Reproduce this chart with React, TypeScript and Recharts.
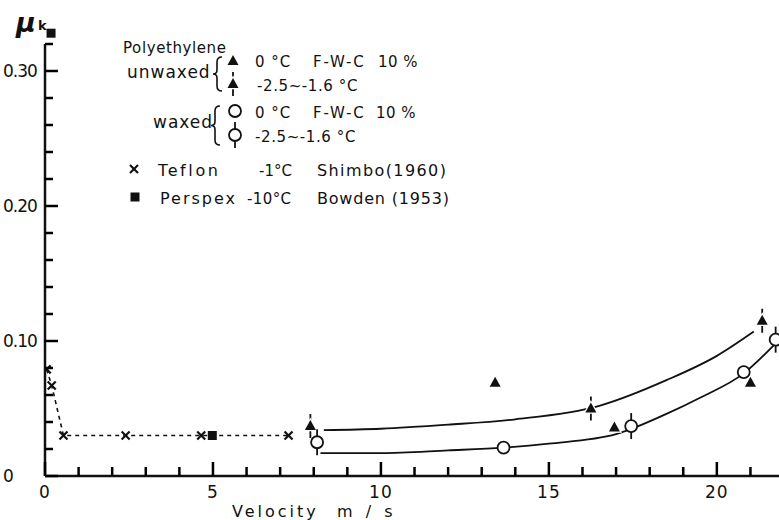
import React from "react";
import { ComposedChart, Line, Scatter, XAxis, YAxis, ReferenceLine } from "recharts";

// Teflon, Shimbo (1960), -1°C
const teflon = [
  { v: 0.05, mu: 0.079 },
  { v: 0.2, mu: 0.067 },
  { v: 0.55, mu: 0.03 },
  { v: 2.4, mu: 0.03 },
  { v: 4.65, mu: 0.03 },
  { v: 7.25, mu: 0.03 },
];
// Perspex, Bowden (1953), -10°C
const perspex = [
  { v: 0.18, mu: 0.328 },
  { v: 4.98, mu: 0.03 },
];
// polyethylene unwaxed
const unwaxed0 = [
  { v: 13.4, mu: 0.069 },
  { v: 16.95, mu: 0.036 },
  { v: 21.0, mu: 0.069 },
];
const unwaxedCold = [
  { v: 7.9, mu: 0.037 },
  { v: 16.25, mu: 0.05 },
  { v: 21.35, mu: 0.115 },
];
// polyethylene waxed
const waxed0 = [
  { v: 13.65, mu: 0.021 },
  { v: 20.8, mu: 0.077 },
];
const waxedCold = [
  { v: 8.1, mu: 0.025 },
  { v: 17.45, mu: 0.037 },
  { v: 21.75, mu: 0.101 },
];
// hand drawn curves
const unwaxedCurve = [
  { v: 8.3, mu: 0.034 },
  { v: 10, mu: 0.035 },
  { v: 12, mu: 0.038 },
  { v: 14, mu: 0.042 },
  { v: 16.5, mu: 0.052 },
  { v: 18.5, mu: 0.071 },
  { v: 20, mu: 0.089 },
  { v: 21.1, mu: 0.107 },
];
const waxedCurve = [
  { v: 8.2, mu: 0.017 },
  { v: 10, mu: 0.017 },
  { v: 12, mu: 0.019 },
  { v: 13.65, mu: 0.021 },
  { v: 15, mu: 0.024 },
  { v: 17, mu: 0.031 },
  { v: 18.5, mu: 0.046 },
  { v: 19.5, mu: 0.058 },
  { v: 20.8, mu: 0.076 },
  { v: 21.7, mu: 0.097 },
];

const xTicks = [0, 1, 2, 3, 4, 5, 6, 7, 8, 9, 10, 11, 12, 13, 14, 15, 16, 17, 18, 19, 20, 21];
const yTicks = [0, 0.02, 0.04, 0.06, 0.08, 0.1, 0.12, 0.14, 0.16, 0.18, 0.2, 0.22, 0.24, 0.26, 0.28, 0.3, 0.32];
const yLabels = ["0", "0.10", "0.20", "0.30"];

const INK = "#111111";
const FONT = "'DejaVu Sans', sans-serif";

const Tri = ({ cx, cy }: any) => (
  <polygon
    points={`${cx},${cy - 6} ${cx - 5.5},${cy + 4} ${cx + 5.5},${cy + 4}`}
    fill={INK}
    stroke="#fff"
    strokeWidth={2.5}
    paintOrder="stroke"
  />
);
const TriBar = ({ cx, cy }: any) => (
  <g>
    <line x1={cx} y1={cy - 12} x2={cx} y2={cy + 12} stroke={INK} strokeWidth={1.8} />
    <Tri cx={cx} cy={cy} />
  </g>
);
const Circ = ({ cx, cy }: any) => (
  <circle cx={cx} cy={cy} r={6} fill="#fff" stroke={INK} strokeWidth={1.8} />
);
const CircBar = ({ cx, cy }: any) => (
  <g>
    <line x1={cx} y1={cy - 13} x2={cx} y2={cy + 13} stroke={INK} strokeWidth={1.8} />
    <Circ cx={cx} cy={cy} />
  </g>
);
const Cross = ({ cx, cy }: any) => (
  <g stroke={INK} strokeWidth={2.2}>
    <line x1={cx - 4} y1={cy - 4} x2={cx + 4} y2={cy + 4} />
    <line x1={cx - 4} y1={cy + 4} x2={cx + 4} y2={cy - 4} />
  </g>
);
const Square = ({ cx, cy }: any) => <rect x={cx - 4.5} y={cy - 4.5} width={9} height={9} fill={INK} />;

// ticks point inward, longer on the labelled ones
const XTick = (props: any) => {
  const x = Number(props.x);
  const y = Number(props.y);
  const major = props.index % 5 === 0;
  return (
    <g>
      <path d={`M${x},${y}V${y - (major ? 14 : 9)}`} stroke="#000" strokeWidth={2.5} fill="none" />
      {major && (
        <text x={x} y={y + 22} textAnchor="middle" fontSize={17} fontFamily={FONT} fill={INK} letterSpacing={1}>
          {xTicks[props.index]}
        </text>
      )}
    </g>
  );
};

const YTick = (props: any) => {
  const x = Number(props.x);
  const y = Number(props.y);
  const major = props.index % 5 === 0;
  return (
    <g>
      <path d={`M${x},${y}H${x + (major ? 13 : 8)}`} stroke="#000" strokeWidth={2.5} fill="none" />
      {major && (
        <text x={3} y={y + 6} fontSize={17} fontFamily={FONT} fill={INK} letterSpacing={-1}>
          {yLabels[props.index / 5]}
        </text>
      )}
    </g>
  );
};

const Brace = ({ x, y0, y1 }: { x: number; y0: number; y1: number }) => {
  const m = (y0 + y1) / 2;
  return (
    <path
      d={`M${x + 9},${y0} Q${x + 4},${y0} ${x + 4},${y0 + 5} L${x + 4},${m - 4} Q${x + 4},${m} ${x},${m} Q${x + 4},${m} ${x + 4},${m + 4} L${x + 4},${y1 - 5} Q${x + 4},${y1} ${x + 9},${y1}`}
      fill="none"
      stroke={INK}
      strokeWidth={1.6}
    />
  );
};

function Overlay() {
  const t = { fontFamily: FONT, fill: INK } as const;
  return (
    <svg width={779} height={520} style={{ position: "absolute", left: 0, top: 0, pointerEvents: "none" }}>
      <text x={16} y={32} fontSize={27} fontStyle="italic" fontWeight="bold" {...t}>μ</text>
      <text x={38} y={30} fontSize={13} fontWeight="bold" {...t}>k</text>

      <text x={123} y={53} fontSize={15} letterSpacing={0.6} {...t}>Polyethylene</text>
      <text x={127} y={78} fontSize={17} letterSpacing={1} {...t}>unwaxed</text>
      <Brace x={213} y0={57} y1={91} />
      <Tri cx={233} cy={61} />
      <TriBar cx={233} cy={84} />
      <text x={255} y={67} fontSize={15} letterSpacing={1} {...t}>0 °C</text>
      <text x={313} y={67} fontSize={15} letterSpacing={1.8} {...t}>F-W-C</text>
      <text x={378} y={67} fontSize={15} letterSpacing={0.5} {...t}>10 %</text>
      <text x={257} y={91} fontSize={15} letterSpacing={0.6} {...t}>-2.5~-1.6 °C</text>

      <text x={153} y={128} fontSize={17} letterSpacing={1} {...t}>waxed</text>
      <Brace x={211} y0={106} y1={145} />
      <Circ cx={235} cy={111} />
      <CircBar cx={235} cy={135} />
      <text x={255} y={118} fontSize={15} letterSpacing={1} {...t}>0 °C</text>
      <text x={313} y={118} fontSize={15} letterSpacing={1.8} {...t}>F-W-C</text>
      <text x={376} y={118} fontSize={15} letterSpacing={0.5} {...t}>10 %</text>
      <text x={255} y={142} fontSize={15} letterSpacing={0.6} {...t}>-2.5~-1.6 °C</text>

      <Cross cx={134} cy={169} />
      <text x={158} y={176} fontSize={16} letterSpacing={2.6} {...t}>Teflon</text>
      <text x={259} y={176} fontSize={15} {...t}>-1°C</text>
      <text x={317} y={176} fontSize={16} letterSpacing={1.4} {...t}>Shimbo(1960)</text>
      <Square cx={135} cy={197} />
      <text x={160} y={204} fontSize={16} letterSpacing={2} {...t}>Perspex</text>
      <text x={247} y={204} fontSize={15} letterSpacing={0.4} {...t}>-10°C</text>
      <text x={317} y={204} fontSize={16} letterSpacing={0.8} {...t}>Bowden (1953)</text>

      <text x={232} y={517} fontSize={16} letterSpacing={3} {...t}>Velocity</text>
      <text x={337} y={517} fontSize={16} letterSpacing={4} {...t}>m / s</text>
    </svg>
  );
}

export default function App() {
  return (
    <div style={{ position: "fixed", left: 0, top: 0, width: 779, height: 520, background: "#fff" }}>
      <ComposedChart width={779} height={520} margin={{ top: 17, right: 0, bottom: 14, left: 0 }}>
        <XAxis
          type="number"
          dataKey="v"
          domain={[0, 21.85]}
          ticks={xTicks}
          interval={0}
          tickSize={0}
          tickMargin={0}
          tickLine={false}
          tick={(p: any) => <XTick {...p} />}
          axisLine={{ stroke: INK, strokeWidth: 2.5 }}
          height={30}
          allowDataOverflow
        />
        <YAxis
          type="number"
          dataKey="mu"
          domain={[0, 0.34]}
          ticks={yTicks}
          interval={0}
          tickSize={0}
          tickMargin={0}
          tickLine={false}
          tick={(p: any) => <YTick {...p} />}
          axisLine={false}
          width={45}
          allowDataOverflow
        />
        <ReferenceLine
          segment={[{ x: 0, y: 0 }, { x: 0, y: 0.32 }]}
          stroke={INK}
          strokeWidth={2.5}
          ifOverflow="visible"
        />
        <Line
          data={teflon}
          dataKey="mu"
          type="linear"
          stroke={INK}
          strokeWidth={1.6}
          strokeDasharray="4 4"
          dot={false}
          isAnimationActive={false}
        />
        <Line data={unwaxedCurve} dataKey="mu" type="monotone" stroke={INK} strokeWidth={1.8} dot={false} isAnimationActive={false} />
        <Line data={waxedCurve} dataKey="mu" type="monotone" stroke={INK} strokeWidth={1.8} dot={false} isAnimationActive={false} />
        <Scatter data={teflon} shape={<Cross />} isAnimationActive={false} />
        <Scatter data={perspex} shape={<Square />} isAnimationActive={false} />
        <Scatter data={unwaxed0} shape={<Tri />} isAnimationActive={false} />
        <Scatter data={unwaxedCold} shape={<TriBar />} isAnimationActive={false} />
        <Scatter data={waxed0} shape={<Circ />} isAnimationActive={false} />
        <Scatter data={waxedCold} shape={<CircBar />} isAnimationActive={false} />
      </ComposedChart>
      <Overlay />
    </div>
  );
}
